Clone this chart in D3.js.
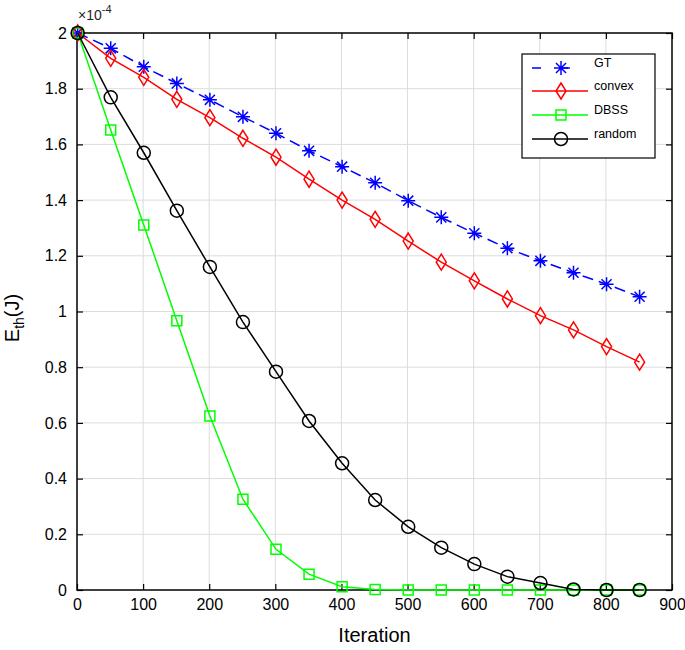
<!DOCTYPE html>
<html>
<head>
<meta charset="utf-8">
<script src="https://cdn.jsdelivr.net/npm/d3@7"></script>
<style>
  html, body { margin: 0; padding: 0; background: #fff; }
  svg { display: block; font-family: "Liberation Sans", Arial, Helvetica, sans-serif; }
</style>
</head>
<body>
<svg id="chart" width="685" height="650"></svg>
<script>
// ---- data (values in units of 1e-4 J) ----
const iterations = [1, 51, 101, 151, 201, 251, 301, 351, 401, 451, 501, 551, 601, 651, 701, 751, 801, 851];
const gtValues     = [2.0, 1.945, 1.879, 1.819, 1.760, 1.699, 1.640, 1.577, 1.520, 1.462, 1.398, 1.338, 1.281, 1.227, 1.182, 1.139, 1.098, 1.053];
const convexValues = [2.0, 1.909, 1.841, 1.762, 1.696, 1.622, 1.554, 1.475, 1.400, 1.331, 1.253, 1.177, 1.110, 1.045, 0.985, 0.934, 0.874, 0.818];
const dbssValues   = [2.0, 1.652, 1.311, 0.967, 0.625, 0.326, 0.146, 0.057, 0.012, 0.002, 0, 0, 0, 0, 0, 0, 0, 0];
const randomValues = [2.0, 1.769, 1.570, 1.362, 1.160, 0.962, 0.784, 0.607, 0.455, 0.323, 0.227, 0.152, 0.093, 0.048, 0.025, 0.002, 0, 0];
const seriesNames  = ["GT", "convex", "DBSS", "random"];
const xTickValues  = [0, 100, 200, 300, 400, 500, 600, 700, 800, 900];
const yTickValues  = [0, 0.2, 0.4, 0.6, 0.8, 1.0, 1.2, 1.4, 1.6, 1.8, 2.0];
const xLabel = "Iteration";
const exponentLabel = "-4";

// ---- layout ----
const L = 77, R = 672, T = 33, B = 590;
const svg = d3.select("#chart");
const x = d3.scaleLinear().domain([0, 900]).range([L, R]);
const y = d3.scaleLinear().domain([0, 2]).range([B, T]);

// grid
const grid = svg.append("g");
grid.selectAll("line.gx").data(xTickValues.slice(1, -1)).join("line")
  .attr("x1", d => x(d)).attr("x2", d => x(d)).attr("y1", T).attr("y2", B)
  .attr("stroke", "#dcdcdc").attr("stroke-width", 1);
grid.selectAll("line.gy").data(yTickValues.slice(1, -1)).join("line")
  .attr("y1", d => y(d)).attr("y2", d => y(d)).attr("x1", L).attr("x2", R)
  .attr("stroke", "#dcdcdc").attr("stroke-width", 1);

// axes (ticks inward, on all four sides)
const fmtY = d => d3.format("")(+d.toFixed(1));
function styleAxis(g) {
  g.select(".domain").remove();
  g.selectAll(".tick line").attr("stroke", "#000").attr("stroke-width", 1.2);
  g.selectAll(".tick text").attr("fill", "#000").attr("font-size", 16)
    .attr("font-family", "'Liberation Sans', Arial, sans-serif");
}
svg.append("g").attr("transform", `translate(0,${B})`)
  .call(d3.axisBottom(x).tickValues(xTickValues).tickSize(-6).tickPadding(9).tickFormat(d3.format("d")))
  .call(styleAxis);
svg.append("g").attr("transform", `translate(0,${T})`)
  .call(d3.axisTop(x).tickValues(xTickValues).tickSize(-6).tickFormat(""))
  .call(styleAxis);
svg.append("g").attr("transform", `translate(${L},0)`)
  .call(d3.axisLeft(y).tickValues(yTickValues).tickSize(-6).tickPadding(10).tickFormat(fmtY))
  .call(styleAxis);
svg.append("g").attr("transform", `translate(${R},0)`)
  .call(d3.axisRight(y).tickValues(yTickValues).tickSize(-6).tickFormat(""))
  .call(styleAxis);

// box
svg.append("rect").attr("x", L).attr("y", T).attr("width", R - L).attr("height", B - T)
  .attr("fill", "none").attr("stroke", "#000").attr("stroke-width", 1.5);

// markers
const markerPaths = {
  star: s => { const r = s, d = s * 0.72;
    return `M${-r},0L${r},0M0,${-r}L0,${r}M${-d},${-d}L${d},${d}M${-d},${d}L${d},${-d}`; },
  diamond: s => `M0,${-8}L5,0L0,8L-5,0Z`,
  square: s => `M-5,-5L5,-5L5,5L-5,5Z`,
  circle: s => `M${s},0A${s},${s} 0 1,1 ${-s},0A${s},${s} 0 1,1 ${s},0Z`
};
const series = [
  { name: seriesNames[0], values: gtValues,     color: "#0000ff", dash: "11,6", marker: "star",    size: 7 },
  { name: seriesNames[1], values: convexValues, color: "#ff0000", dash: null,   marker: "diamond", size: 8 },
  { name: seriesNames[2], values: dbssValues,   color: "#00ff00", dash: null,   marker: "square",  size: 5 },
  { name: seriesNames[3], values: randomValues, color: "#000000", dash: null,   marker: "circle",  size: 6.5 }
];
const line = d3.line().x(d => x(d[0])).y(d => y(d[1]));

series.forEach(s => {
  const pts = iterations.map((it, i) => [it, s.values[i]]);
  const g = svg.append("g");
  g.append("path").datum(pts).attr("d", line)
    .attr("fill", "none").attr("stroke", s.color).attr("stroke-width", 1.5)
    .attr("stroke-dasharray", s.dash);
  g.selectAll("path.m").data(pts).join("path").attr("class", "m")
    .attr("transform", d => `translate(${x(d[0])},${y(d[1])})`)
    .attr("d", markerPaths[s.marker](s.size))
    .attr("fill", "none").attr("stroke", s.color).attr("stroke-width", 1.5);
});

// exponent label
const ex = svg.append("text").attr("x", 78).attr("y", 20).attr("font-size", 14).attr("fill", "#262626");
ex.append("tspan").text("\u00d710");
ex.append("tspan").attr("dy", -7).attr("font-size", 11).text(exponentLabel);

// axis labels
svg.append("text").attr("x", (L + R) / 2).attr("y", 642).attr("text-anchor", "middle")
  .attr("font-size", 20).attr("fill", "#000").text(xLabel);
const yl = svg.append("text").attr("transform", `translate(19,318) rotate(-90)`)
  .attr("text-anchor", "middle").attr("font-size", 20).attr("fill", "#000");
yl.append("tspan").text("E");
yl.append("tspan").attr("dy", 5).attr("font-size", 14).text("th");
yl.append("tspan").attr("dy", -5).text("(J)");

// legend
const lg = svg.append("g");
lg.append("rect").attr("x", 522).attr("y", 54).attr("width", 133).attr("height", 104)
  .attr("fill", "#fff").attr("stroke", "#000").attr("stroke-width", 1.2);
const legY = [68, 91, 115, 139];
series.forEach((s, i) => {
  const gy = legY[i];
  lg.append("line").attr("x1", 532).attr("x2", 588).attr("y1", gy).attr("y2", gy)
    .attr("stroke", s.color).attr("stroke-width", 1.5)
    .attr("stroke-dasharray", s.dash ? "9,20" : null);
  lg.append("path").attr("transform", `translate(561,${gy})`).attr("d", markerPaths[s.marker](s.size))
    .attr("fill", "none").attr("stroke", s.color).attr("stroke-width", 1.5);
  lg.append("text").attr("x", 594).attr("y", gy).attr("dy", "-0.1em").attr("font-size", 12.5)
    .attr("fill", "#000").text(s.name);
});
</script>
</body>
</html>
